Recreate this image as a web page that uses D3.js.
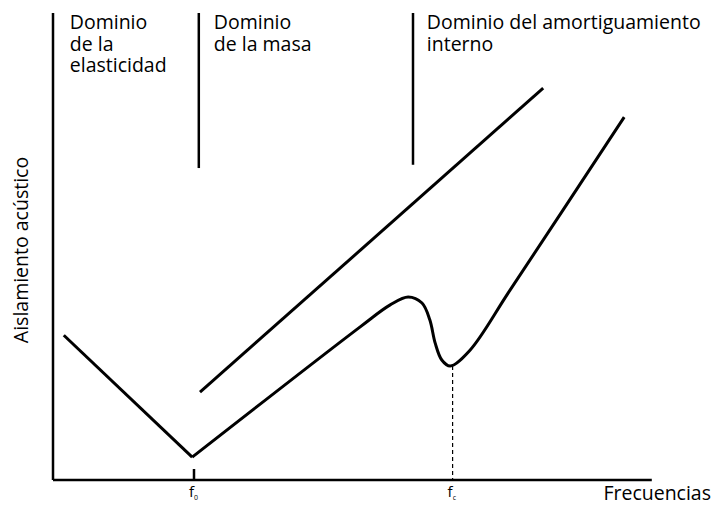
<!DOCTYPE html>
<html><head><meta charset="utf-8">
<script src="https://cdn.jsdelivr.net/npm/d3@7"></script>
<style>
html,body{margin:0;padding:0;background:#fff;}
text{font-family:"Open Sans",sans-serif;fill:#000;}
</style></head>
<body><svg id="c" width="713" height="505"></svg>
<script>
// Data (arbitrary units: frequency 0..100, insulation 0..100)
const lowerLeftFreq = [1.8, 23.2];
const lowerLeftIns  = [31.0, 4.9];
const lowerRightFreq = [23.2, 51.2, 56.2, 59.2, 61.5, 62.8, 63.7, 64.8, 66.2, 69.5, 76.2, 95.2];
const lowerRightIns  = [4.9, 32.8, 37.5, 39.2, 37.9, 34.3, 29.3, 25.7, 24.4, 27.8, 40.7, 77.7];
const upperFreq = [24.5, 81.7];
const upperIns  = [18.8, 83.9];
const dividerFreq = [24.3, 60.0];
const dividerBottom = [66.8, 67.5];
const f0 = 23.5, fc = 66.6, fcIns = 24.4;
const domainLabels = [
  ["Dominio","de la","elasticidad"],
  ["Dominio","de la masa"],
  ["Dominio del amortiguamiento","interno"]
];
const labelFreq = [2.8, 26.8, 62.3];
const xTitle = "Frecuencias", yTitle = "Aislamiento acústico";

const svg = d3.select("#c");
const x = d3.scaleLinear().domain([0,100]).range([53,653]);
const y = d3.scaleLinear().domain([0,100]).range([480,13]);

// axes
svg.append("line").attr("x1",x(0)).attr("x2",x(0)).attr("y1",y(100)).attr("y2",y(0))
  .attr("stroke","#000").attr("stroke-width",2.5);
svg.append("line").attr("x1",x(0)).attr("x2",x(99.8)).attr("y1",y(0)).attr("y2",y(0))
  .attr("stroke","#000").attr("stroke-width",2.5);

// dividers
dividerFreq.forEach((f,i)=>{
  svg.append("line").attr("x1",x(f)).attr("x2",x(f)).attr("y1",y(100)).attr("y2",y(dividerBottom[i]))
    .attr("stroke","#000").attr("stroke-width",2.5);
});

// labels (one text per line)
domainLabels.forEach((lines,i)=>{
  lines.forEach((l,j)=>svg.append("text").attr("x",x(labelFreq[i])).attr("y",29 + j*21.5)
    .attr("font-size",19.5).text(l));
});

const line = d3.line().x(d=>x(d[0])).y(d=>y(d[1]));
svg.append("path").attr("d", line(d3.zip(lowerLeftFreq, lowerLeftIns)))
  .attr("fill","none").attr("stroke","#000").attr("stroke-width",3).attr("stroke-linejoin","miter");
svg.append("path").attr("d", d3.line().x(d=>x(d[0])).y(d=>y(d[1])).curve(d3.curveCatmullRom.alpha(0.5))(d3.zip(lowerRightFreq, lowerRightIns)))
  .attr("fill","none").attr("stroke","#000").attr("stroke-width",3);
svg.append("path").attr("d", line(d3.zip(upperFreq, upperIns)))
  .attr("fill","none").attr("stroke","#000").attr("stroke-width",3);

// f0 tick & fc dashed
svg.append("line").attr("x1",x(f0)).attr("x2",x(f0)).attr("y1",y(0)).attr("y2",y(0)-11)
  .attr("stroke","#000").attr("stroke-width",2.5);
svg.append("line").attr("x1",x(fc)).attr("x2",x(fc)).attr("y1",y(fcIns)).attr("y2",y(0))
  .attr("stroke","#000").attr("stroke-width",1.2).attr("stroke-dasharray","4,3");

function fLabel(fx, sub){
  const t = svg.append("text").attr("x",x(fx)-5).attr("y",497).attr("font-size",15);
  t.append("tspan").text("f");
  t.append("tspan").attr("font-size",7).attr("dy",3).text(sub);
}
fLabel(f0,"0");
fLabel(fc,"c");

svg.append("text").attr("x",711).attr("y",499.5).attr("text-anchor","end").attr("font-size",19.5).text(xTitle);
svg.append("text").attr("transform","translate(28,250) rotate(-90)").attr("text-anchor","middle")
  .attr("font-size",19.5).text(yTitle);
</script></body></html>
